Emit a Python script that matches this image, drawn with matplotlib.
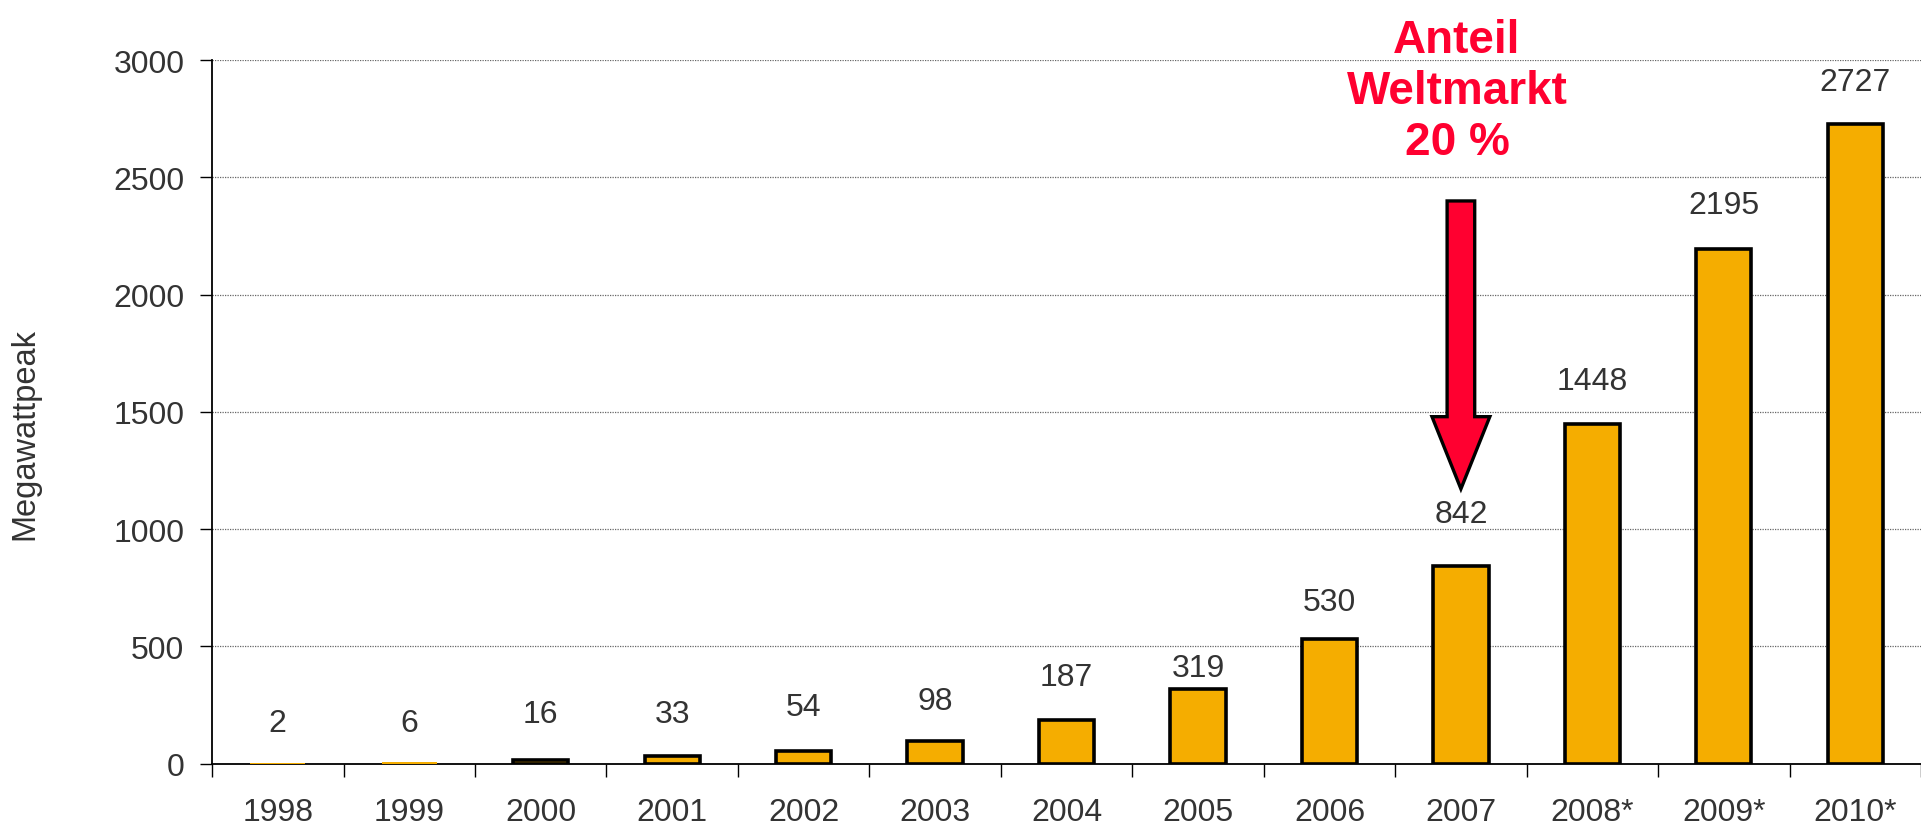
"""
Photovoltaik-Produktion in Megawattpeak, 1998 bis 2010 (Balkendiagramm).
"""

import matplotlib
matplotlib.use('Agg')

import matplotlib.pyplot as plt
import numpy as np


YEARS = ["1998", "1999", "2000", "2001", "2002", "2003", "2004",
         "2005", "2006", "2007", "2008*", "2009*", "2010*"]
MWP = [2, 6, 16, 33, 54, 98, 187, 319, 530, 842, 1448, 2195, 2727]
# height (in data units) where each value label sits
LABEL_Y = [172, 172, 209, 209, 240, 267, 371, 408, 690, 1066, 1631, 2383, 2906]

Y_TICKS = [0, 500, 1000, 1500, 2000, 2500, 3000]

NOTE = "Anteil\nWeltmarkt\n20 %"
NOTE_YEAR = "2007"
ARROW_TOP, ARROW_TIP, ARROW_HEAD = 2399, 1171, 1479

BAR_COLOR = "#F5AD00"
RED = "#FF0030"
TEXT = "#333333"
FONT = "Liberation Sans"


plt.rcParams['font.family'] = [FONT, 'DejaVu Sans']

fig = plt.figure(figsize=(19.21, 8.29), dpi=100)
ax = fig.add_axes([0.1104, 0.0778, 0.8896, 0.8486])

x = np.arange(len(YEARS))
# the two tiniest bars don't show up at all in the original
edges = [0 if v < 10 else 2.6 for v in MWP]
ax.bar(x, MWP, width=0.42, color=BAR_COLOR, edgecolor="black", linewidth=edges, zorder=3)

for xi, v, ly in zip(x, MWP, LABEL_Y):
    ax.text(xi, ly, str(v), ha="center", va="center", fontsize=23, color=TEXT)

# Axes
ax.set_xlim(-0.5, len(YEARS) - 0.5)
ax.set_ylim(0, 3000)
ax.set_yticks(Y_TICKS)
ax.tick_params(axis="y", length=9, width=1, pad=11, labelsize=23, labelcolor=TEXT)
ax.yaxis.grid(True, linestyle=(0, (1, 1)), color="#666666", linewidth=0.9, zorder=0)

# x ticks between the categories, labels in the middle
ax.set_xticks(np.arange(len(YEARS) + 1) - 0.5)
ax.set_xticklabels([])
ax.set_xticks(x, minor=True)
ax.set_xticklabels(YEARS, minor=True)
ax.tick_params(axis="x", which="major", length=9, width=1, direction="out")
ax.tick_params(axis="x", which="minor", length=0, pad=24, labelsize=23, labelcolor=TEXT)

for side in ("top", "right"):
    ax.spines[side].set_visible(False)
ax.spines["left"].set_linewidth(1.3)
ax.spines["bottom"].set_linewidth(1.3)

fig.text(24.5 / 1921, 1 - 434 / 829, "Megawattpeak", rotation=90,
         ha="center", va="center", fontsize=23.5, color=TEXT)

# Red arrow and note
xa = YEARS.index(NOTE_YEAR)
ax.arrow(xa, ARROW_TOP, 0, ARROW_TIP - ARROW_TOP, width=0.21, head_width=0.44,
         head_length=ARROW_HEAD - ARROW_TIP, length_includes_head=True,
         facecolor=RED, edgecolor="black", linewidth=2.4, zorder=4)

fig.text(1457 / 1921, 1 - 92 / 829, NOTE, ha="center", va="center",
         fontsize=33, fontweight="bold", color=RED, linespacing=1.2)

fig.savefig("out.png", dpi=100)
